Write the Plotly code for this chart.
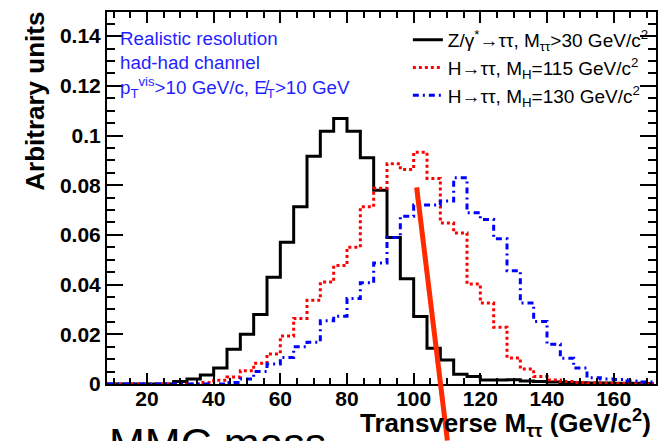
import plotly.graph_objects as go

# binning of the transverse mass histograms (GeV/c^2)
bin_edges = list(range(8, 176, 4))

z_tautau = [0, 0, 0, 0, 0, 0.001, 0.002, 0.0036, 0.0064,
            0.014, 0.020, 0.028, 0.043, 0.057, 0.0713, 0.0917, 0.1017,
            0.1068, 0.1017, 0.091, 0.078, 0.059, 0.0424, 0.0272, 0.0144,
            0.0097, 0.0039, 0.003, 0.0016, 0.0016, 0.0017, 0.0012, 0.001,
            0.0008, 0.0006, 0.0005, 0.0004, 0.0004, 0.0003, 0.0003, 0.0002]
h115 = [0, 0, 0, 0, 0, 0, 0, 0.0006, 0.0015,
        0.0028, 0.0053, 0.0084, 0.0121, 0.0193, 0.0264, 0.0337, 0.041,
        0.0477, 0.055, 0.0713, 0.0788, 0.0886, 0.0863, 0.0933, 0.0827,
        0.0648, 0.0608, 0.0402, 0.0326, 0.0228, 0.0105, 0.006, 0.003,
        0.0016, 0.001, 0.0006, 0.0004, 0.0003, 0.0002, 0.0002, 0.0001]
h130 = [0, 0, 0, 0, 0, 0, 0, 0, 0,
        0.0006, 0.002, 0.005, 0.008, 0.0107, 0.015, 0.0168, 0.0255,
        0.0273, 0.0344, 0.0407, 0.0487, 0.059, 0.0675, 0.072, 0.072,
        0.0736, 0.083, 0.0689, 0.0662, 0.0585, 0.0456, 0.0326, 0.0252,
        0.016, 0.0104, 0.0064, 0.0025, 0.002, 0.0018, 0.0012, 0.0008]

series = [
    ("Z/γ<sup>*</sup>→ττ, M<sub>ττ</sub>>30 GeV/c<sup>2</sup>", z_tautau, "black", "solid"),
    ("H→ττ, M<sub>H</sub>=115 GeV/c<sup>2</sup>", h115, "#ff0000", "dot"),
    ("H→ττ, M<sub>H</sub>=130 GeV/c<sup>2</sup>", h130, "#0000ff", "6px,4px,2px,4px"),
]

FONT = "Liberation Sans, Arial, Helvetica, sans-serif"

fig = go.Figure()
for name, vals, color, dash in series:
    fig.add_trace(go.Scatter(
        x=bin_edges, y=vals + [vals[-1]], name=name, mode="lines",
        line=dict(color=color, width=3, dash=dash, shape="hv"),
    ))

axis_common = dict(
    showline=True, linecolor="black", linewidth=2, mirror="allticks",
    ticks="inside", tickcolor="black", tickwidth=1.5, showgrid=False,
    zeroline=False, tickfont=dict(family=FONT, size=21, color="black", weight="bold"),
)
fig.update_xaxes(range=[8, 172.7], dtick=20, tick0=0, ticklen=11, ticklabelstandoff=-5,
                 minor=dict(dtick=5, ticklen=6, ticks="inside", tickcolor="black", tickwidth=1.5),
                 **axis_common)
fig.update_yaxes(range=[0, 0.1497], dtick=0.02, tick0=0, ticklen=16, ticklabelstandoff=0,
                 minor=dict(dtick=0.005, ticklen=8, ticks="inside", tickcolor="black", tickwidth=1.5),
                 **axis_common)

# the page body has an 8px margin, so the figure is 8px smaller than the window
fig.update_layout(
    width=658, height=433,
    margin=dict(l=99, r=10, t=2, b=57),
    paper_bgcolor="white", plot_bgcolor="white",
    font=dict(family=FONT, color="black"),
    legend=dict(x=0.548, y=0.976, xanchor="left", yanchor="top",
                bgcolor="rgba(0,0,0,0)", font=dict(size=19), tracegroupgap=0),
    annotations=[
        dict(text="Arbitrary units", xref="paper", yref="paper", x=-0.131, y=0.759,
             xanchor="center", yanchor="middle", textangle=-90, showarrow=False,
             font=dict(size=26, weight="bold")),
        dict(text="Transverse M<sub>ττ</sub> (GeV/c<sup>2</sup>)", xref="paper", yref="paper",
             x=0.994, y=-0.106, xanchor="right", yanchor="middle", showarrow=False,
             font=dict(size=26, weight="bold")),
        dict(text="Realistic resolution<br>had-had channel<br>"
                  "p<sub>T</sub><sup>vis</sup>>10 GeV/c, E\u0338<sub>T</sub>>10 GeV",
             xref="paper", yref="paper", x=0.02, y=0.962, xanchor="left", yanchor="top",
             align="left", showarrow=False, font=dict(size=18.8, color="#1f1fff")),
        dict(text="MMC mass", xref="paper", yref="paper", x=0.0, y=-0.09,
             xanchor="left", yanchor="top", showarrow=False, font=dict(size=43)),
    ],
    shapes=[
        dict(type="line", xref="paper", yref="paper", x0=0.564, y0=0.5286, x1=0.620, y1=-0.152,
             line=dict(color="#ff2a00", width=5)),
    ],
)

fig.write_html("out.html")
